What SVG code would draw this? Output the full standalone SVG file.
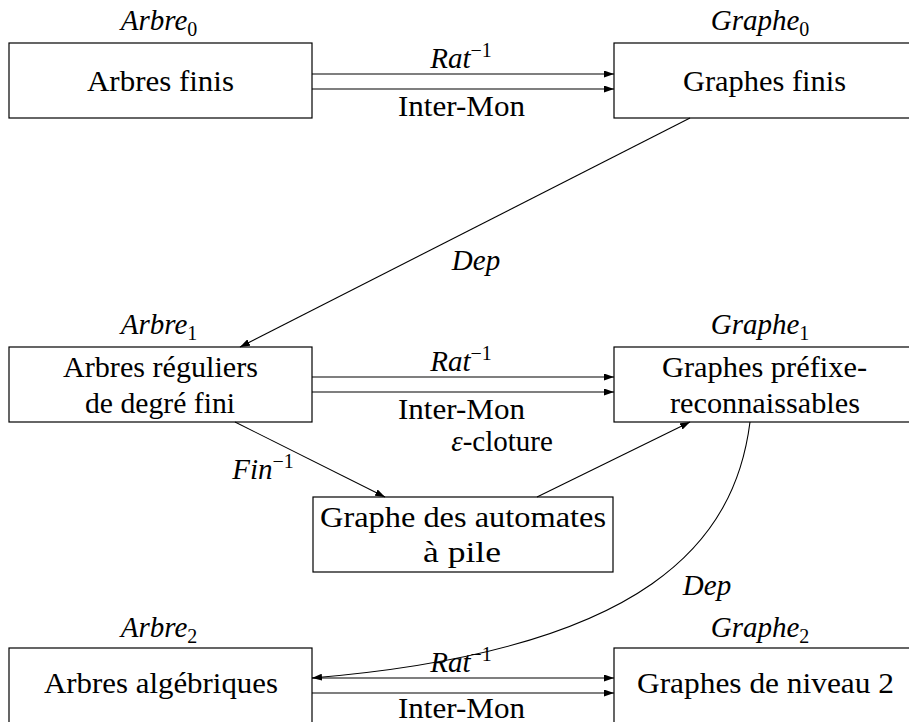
<svg xmlns="http://www.w3.org/2000/svg" width="909" height="722" viewBox="0 0 909 722" font-family="Liberation Serif, DejaVu Serif, Noto Serif, serif">
<style>
.box{fill:#fff;stroke:#000;stroke-width:1.2}
.c{fill:none;stroke:#000;stroke-width:1.1}
text{font-family:"Liberation Serif","DejaVu Serif","Noto Serif",serif;font-size:29px;text-anchor:middle;fill:#000}
.m{font-style:italic}
.sub{font-size:20px;font-style:normal}
</style>
<defs>
<marker id="ah" viewBox="0 0 10 7" refX="10" refY="3.5" markerWidth="10" markerHeight="7" markerUnits="userSpaceOnUse" orient="auto">
<path d="M0,0 L10,3.5 L0,7 z" fill="#000"/>
</marker>
</defs>
<g id="n-arbre0">
<text class="m" x="159" y="30">Arbre<tspan class="sub" dy="6">0</tspan></text>
<rect class="box" x="9" y="43" width="303" height="75"/>
<text x="160.5" y="91" textLength="147" lengthAdjust="spacingAndGlyphs">Arbres finis</text>
</g>
<g id="n-graphe0">
<text class="m" x="760" y="30">Graphe<tspan class="sub" dy="6">0</tspan></text>
<rect class="box" x="614" y="43" width="303" height="75"/>
<text x="764.5" y="91" textLength="163" lengthAdjust="spacingAndGlyphs">Graphes finis</text>
</g>
<g id="n-arbre1">
<text class="m" x="159" y="334">Arbre<tspan class="sub" dy="6">1</tspan></text>
<rect class="box" x="9" y="347" width="303" height="75"/>
<text x="160.5" y="377" textLength="195" lengthAdjust="spacingAndGlyphs">Arbres réguliers</text>
<text x="160" y="413" textLength="150" lengthAdjust="spacingAndGlyphs">de degré fini</text>
</g>
<g id="n-graphe1">
<text class="m" x="760" y="334">Graphe<tspan class="sub" dy="6">1</tspan></text>
<rect class="box" x="614" y="347" width="303" height="75"/>
<text x="764.5" y="377" textLength="205" lengthAdjust="spacingAndGlyphs">Graphes préfixe-</text>
<text x="765" y="413" textLength="190" lengthAdjust="spacingAndGlyphs">reconnaissables</text>
</g>
<g id="n-automates">
<rect class="box" x="313" y="497" width="300" height="75"/>
<text x="463" y="527" textLength="286" lengthAdjust="spacingAndGlyphs">Graphe des automates</text>
<text x="462" y="562" textLength="78" lengthAdjust="spacingAndGlyphs">à pile</text>
</g>
<g id="n-arbre2">
<text class="m" x="159" y="637">Arbre<tspan class="sub" dy="6">2</tspan></text>
<rect class="box" x="9" y="648" width="303" height="80"/>
<text x="161" y="693" textLength="234" lengthAdjust="spacingAndGlyphs">Arbres algébriques</text>
</g>
<g id="n-graphe2">
<text class="m" x="760" y="637">Graphe<tspan class="sub" dy="6">2</tspan></text>
<rect class="box" x="614" y="648" width="303" height="80"/>
<text x="765.5" y="693" textLength="257" lengthAdjust="spacingAndGlyphs">Graphes de niveau 2</text>
</g>
<g id="connectors">
<line class="c" x1="312" y1="74" x2="614" y2="74" marker-end="url(#ah)"/>
<line class="c" x1="312" y1="89" x2="614" y2="89" marker-end="url(#ah)"/>
<text class="m" x="461" y="68">Rat<tspan class="sub" dy="-11">−1</tspan></text>
<text x="461.5" y="116" textLength="127" lengthAdjust="spacingAndGlyphs">Inter-Mon</text>
<line class="c" x1="312" y1="377" x2="614" y2="377" marker-end="url(#ah)"/>
<line class="c" x1="312" y1="392" x2="614" y2="392" marker-end="url(#ah)"/>
<text class="m" x="461" y="371">Rat<tspan class="sub" dy="-11">−1</tspan></text>
<text x="461.5" y="419" textLength="127" lengthAdjust="spacingAndGlyphs">Inter-Mon</text>
<line class="c" x1="312" y1="678" x2="614" y2="678" marker-end="url(#ah)"/>
<line class="c" x1="312" y1="693" x2="614" y2="693" marker-end="url(#ah)"/>
<text class="m" x="461" y="672">Rat<tspan class="sub" dy="-11">−1</tspan></text>
<text x="461.5" y="718" textLength="127" lengthAdjust="spacingAndGlyphs">Inter-Mon</text>
<line class="c" x1="690" y1="118" x2="240" y2="347" marker-end="url(#ah)"/>
<text class="m" x="476" y="270">Dep</text>
<line class="c" x1="235" y1="422" x2="385" y2="497" marker-end="url(#ah)"/>
<text class="m" x="263" y="479">Fin<tspan class="sub" dy="-11">−1</tspan></text>
<line class="c" x1="537" y1="497" x2="690" y2="422" marker-end="url(#ah)"/>
<text x="502" y="451"><tspan class="m">ε</tspan>-cloture</text>
<path class="c" d="M750,422 C735,540 650,650 312,678" marker-end="url(#ah)"/>
<text class="m" x="707" y="595">Dep</text>
</g>
</svg>
